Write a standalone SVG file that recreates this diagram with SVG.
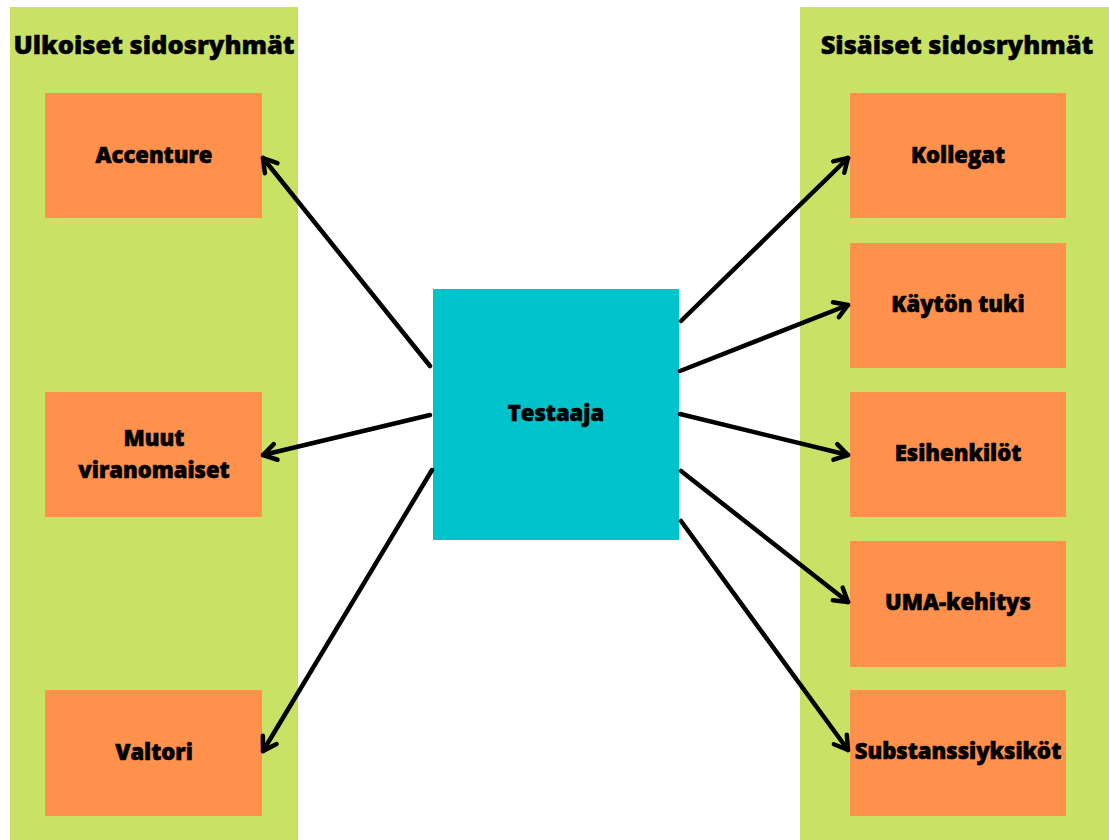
<svg xmlns="http://www.w3.org/2000/svg" width="1109" height="840" viewBox="0 0 1109 840">
<style>
.panel{fill:#C9E265}
.box{fill:#FF914D}
.center{fill:#00C2CB}
.title{font-family:"Open Sans","Noto Sans","DejaVu Sans",sans-serif;font-weight:800;font-size:25.5px;fill:#000;stroke:#000;stroke-width:0.5;text-anchor:middle}
.lbl{font-family:"Open Sans","Noto Sans","DejaVu Sans",sans-serif;font-weight:800;font-size:22px;fill:#000;stroke:#000;stroke-width:0.6;text-anchor:middle}
.conn line{stroke:#000;stroke-width:4.5;stroke-linecap:round;marker-end:url(#arr)}
</style>
<defs>
<marker id="arr" markerUnits="userSpaceOnUse" viewBox="-16 -12 20 24" refX="0" refY="0" markerWidth="20" markerHeight="24" orient="auto" overflow="visible">
<path d="M -13 -8 L 0 0 L -13 8" fill="none" stroke="#000" stroke-width="4.5" stroke-linecap="round" stroke-linejoin="round"/>
</marker>
</defs>
<rect width="1109" height="840" fill="#fff"/>
<g id="ulkoiset">
<rect class="panel" x="10" y="7" width="288" height="833"/>
<text class="title" x="154" y="54">Ulkoiset sidosryhmät</text>
</g>
<g id="sisaiset">
<rect class="panel" x="800" y="7" width="309" height="833"/>
<text class="title" x="957" y="54">Sisäiset sidosryhmät</text>
</g>
<g id="accenture"><rect class="box" x="45" y="93" width="217" height="125"/><text class="lbl" x="154" y="163">Accenture</text></g>
<g id="muut"><rect class="box" x="45" y="392" width="217" height="125"/><text class="lbl" x="154" y="446">Muut</text><text class="lbl" x="154" y="478">viranomaiset</text></g>
<g id="valtori"><rect class="box" x="45" y="690" width="217" height="126"/><text class="lbl" x="154" y="760">Valtori</text></g>
<g id="kollegat"><rect class="box" x="850" y="93" width="216" height="125"/><text class="lbl" x="958" y="163">Kollegat</text></g>
<g id="kayton-tuki"><rect class="box" x="850" y="243" width="216" height="125"/><text class="lbl" x="958" y="312">Käytön tuki</text></g>
<g id="esihenkilot"><rect class="box" x="850" y="392" width="216" height="125"/><text class="lbl" x="958" y="461">Esihenkilöt</text></g>
<g id="uma"><rect class="box" x="850" y="541" width="216" height="126"/><text class="lbl" x="958" y="610">UMA-kehitys</text></g>
<g id="substanssi"><rect class="box" x="850" y="690" width="216" height="126"/><text class="lbl" x="958" y="759">Substanssiyksiköt</text></g>
<g id="testaaja"><rect class="center" x="433" y="289" width="246" height="251"/><text class="lbl" x="556" y="421">Testaaja</text></g>
<g class="conn" id="connectors">
<line x1="430" y1="366" x2="263" y2="158"/>
<line x1="430" y1="415" x2="263" y2="455"/>
<line x1="432" y1="470" x2="263" y2="751"/>
<line x1="681" y1="321" x2="848" y2="158"/>
<line x1="680" y1="371" x2="848" y2="305"/>
<line x1="680" y1="414" x2="848" y2="455"/>
<line x1="681" y1="471" x2="848" y2="602"/>
<line x1="681" y1="521" x2="848" y2="750"/>
</g>
</svg>
